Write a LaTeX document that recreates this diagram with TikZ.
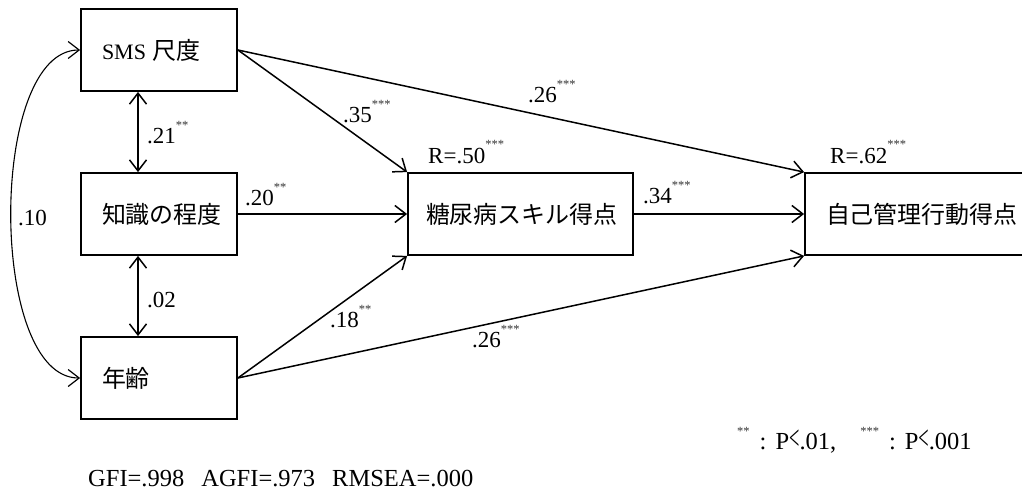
\documentclass[tikz,border=0pt]{standalone}
\usepackage{fontspec}
\usepackage{graphicx}
\setmainfont{Liberation Serif}
\newfontfamily\cjk{Noto Sans CJK JP}[Scale=1.09]
\usetikzlibrary{arrows.meta}
\newcommand\sigmark[1]{\raisebox{14pt}{\fontsize{12.5}{12.5}\selectfont\color{black!80}#1}}
\newcommand\ltmark{\raisebox{-0.3pt}{\scalebox{0.75}[1.4]{<}}}
\newcommand\boxtxt[1]{\raisebox{-3pt}{#1}}
\tikzset{
  box/.style={draw, line width=1.8pt, minimum height=82pt, inner ysep=0pt, align=left, font=\fontsize{22}{26}\selectfont},
  lab/.style={anchor=base west, inner sep=0pt},
  big/.style={font=\fontsize{24.5}{28}\selectfont},
  barb/.tip={Straight Barb[length=11pt,width=17pt,line width=1.5pt]},
  arr/.style={line width=1.5pt, -barb},
  darr/.style={line width=1.5pt, barb-barb},
  carr/.style={line width=1.1pt, {Straight Barb[length=11pt,width=17pt,line width=1.2pt]}-{Straight Barb[length=11pt,width=17pt,line width=1.2pt]}},
}
\begin{document}
\begin{tikzpicture}[x=1pt, y=-1pt, font=\fontsize{23}{27}\selectfont]
\useasboundingbox (0,0) rectangle (1022,492);
\clip (0,0) rectangle (1022,492);
\fill[white] (0,0) rectangle (1022,492);

% boxes
\node[box, minimum width=156pt, text width=114pt, inner xsep=21pt] (sms) at (159,50) {\boxtxt{SMS\hspace{6pt}{\cjk 尺度}}};
\node[box, minimum width=156pt, text width=114pt, inner xsep=21pt] (kn) at (159,214) {\boxtxt{\cjk 知識の程度}};
\node[box, minimum width=156pt, text width=114pt, inner xsep=21pt] (age) at (159,378) {\boxtxt{\cjk 年齢}};
\node[box, minimum width=225pt, text width=189pt, inner xsep=18pt] (skill) at (520.5,214) {\boxtxt{\cjk 糖尿病スキル得点}};
\node[box, minimum width=300pt, text width=258pt, inner xsep=21pt] (self) at (955,214) {\boxtxt{\cjk 自己管理行動得点}};

% paths
\draw[arr] (sms.east) -- (skill.north west);
\draw[arr] (sms.east) -- (self.north west);
\draw[arr] (kn.east) -- (skill.west);
\draw[arr] (skill.east) -- (self.west);
\draw[arr] (age.east) -- (skill.south west);
\draw[arr] (age.east) -- (self.south west);

% correlations
\draw[darr] ([xshift=-21pt]sms.south) -- ([xshift=-21pt]kn.north);
\draw[darr] ([xshift=-21pt]kn.south) -- ([xshift=-21pt]age.north);
\draw[carr] (sms.west) .. controls +(-92,0) and +(-92,0) .. (age.west);

% labels
\node[lab] (l10) at (18,225) {.10};
\node[lab] (l21) at (147,143) {.21\sigmark{**}};
\node[lab] (l02) at (147,307) {.02};
\node[lab] (l35) at (343,123) {.35\sigmark{***}};
\node[lab] (l20) at (245,205) {.20\sigmark{**}};
\node[lab] (l18) at (330,327) {.18\sigmark{**}};
\node[lab] (l26a) at (528,103) {.26\sigmark{***}};
\node[lab] (l26b) at (472,347) {.26\sigmark{***}};
\node[lab] (l34) at (643,203) {.34\sigmark{***}};
\node[lab] (r50) at (428,163) {R=.50\sigmark{***}};
\node[lab] (r62) at (830,163) {R=.62\sigmark{***}};

% legend and fit
\node[lab, big] (legend) at (737,449) {\sigmark{**}\hspace{10pt}:\hspace{9pt}P\ltmark.01,\hspace{24pt}\sigmark{***}\hspace{10pt}:\hspace{9pt}P\ltmark.001};
\node[lab, big] (fit) at (88,486) {GFI=.998\hspace{17pt}AGFI=.973\hspace{17pt}RMSEA=.000};
\end{tikzpicture}
\end{document}
